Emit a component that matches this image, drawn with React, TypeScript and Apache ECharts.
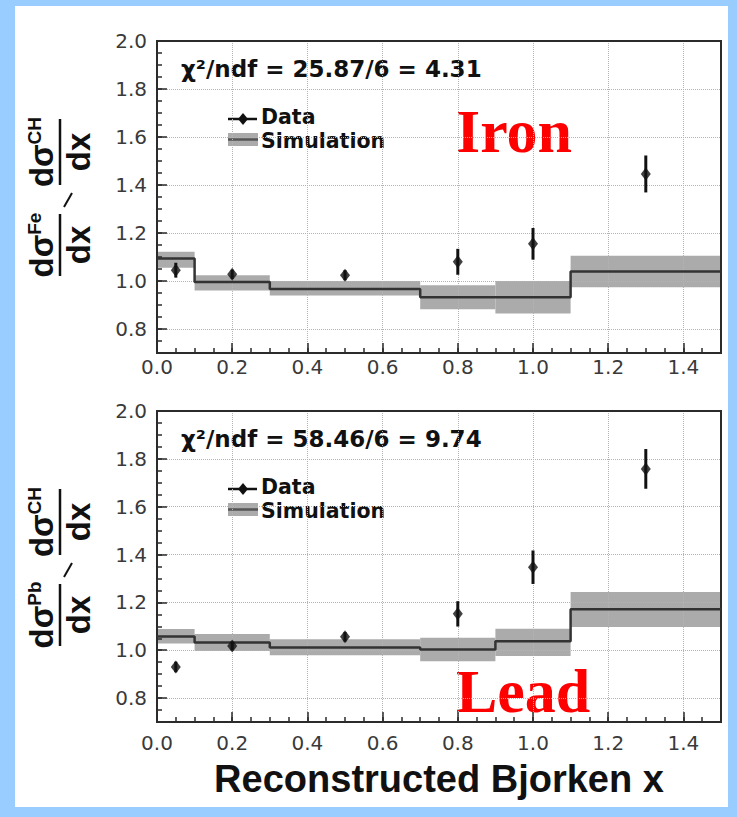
import { useEffect, useRef } from 'react';
import * as echarts from 'echarts';

// Bin edges of the simulated ratio (Bjorken x)
const binEdges = [0, 0.1, 0.3, 0.7, 0.9, 1.1, 1.5];
// Bin centres where the measured ratios are plotted
const pointX = [0.05, 0.2, 0.5, 0.8, 1.0, 1.3];

// Iron / CH
const ironData = [1.045, 1.028, 1.024, 1.08, 1.155, 1.446];
const ironErr = [0.031, 0.019, 0.021, 0.054, 0.066, 0.077];
const ironSim = [1.094, 0.996, 0.967, 0.932, 0.932, 1.04];
const ironSimLo = [1.055, 0.96, 0.94, 0.882, 0.865, 0.974];
const ironSimHi = [1.122, 1.024, 1.0, 0.982, 1.0, 1.105];

// Lead / CH
const leadData = [0.93, 1.018, 1.056, 1.152, 1.347, 1.758];
const leadErr = [0.022, 0.018, 0.02, 0.053, 0.07, 0.083];
const leadSim = [1.057, 1.032, 1.011, 1.003, 1.038, 1.171];
const leadSimLo = [1.028, 0.997, 0.979, 0.954, 0.976, 1.097];
const leadSimHi = [1.089, 1.068, 1.046, 1.052, 1.09, 1.243];

const ironChi = 'χ²/ndf = 25.87/6 = 4.31';
const leadChi = 'χ²/ndf = 58.46/6 = 9.74';
const xTitle = 'Reconstructed Bjorken x';

const SANS = 'DejaVu Sans';
const HELV = 'Liberation Sans';
const SERIF = 'Liberation Serif';
const FRAME = '#2b2b2b';
const BAND = '#ababab';

const GRID_LEFT = 157;
const GRID_W = 564;

type Panel = {
  top: number;
  height: number;
  data: number[];
  err: number[];
  sim: number[];
  lo: number[];
  hi: number[];
  chi: string;
  sup: string;
  tag: string;
  tagY: number;
  labelMargin: number;
};

const panels: Panel[] = [
  { top: 41, height: 312, data: ironData, err: ironErr, sim: ironSim, lo: ironSimLo, hi: ironSimHi, chi: ironChi, sup: 'Fe', tag: 'Iron', tagY: 131, labelMargin: 4 },
  { top: 411, height: 311, data: leadData, err: leadErr, sim: leadSim, lo: leadSimLo, hi: leadSimHi, chi: leadChi, sup: 'Pb', tag: 'Lead', tagY: 691, labelMargin: 11 },
];

function stepPoints(edges: number[], vals: number[]) {
  const pts: number[][] = [];
  vals.forEach((v, i) => {
    pts.push([edges[i], v]);
    pts.push([edges[i + 1], v]);
  });
  return pts;
}

// Rotated y-axis title: (dσ^A/dx) / (dσ^CH/dx)
function ratioTitle(sup: string, cy: number) {
  const rich = {
    m: { fontSize: 33, fontWeight: 'bold', fontFamily: HELV, fill: '#111' },
    s: { fontSize: 19, fontWeight: 'bold', fontFamily: HELV, fill: '#111', verticalAlign: 'top' },
  };
  const fraction = (uc: number, half: number, s: string) => [
    {
      type: 'line',
      shape: { x1: uc - half, y1: 0, x2: uc + half, y2: 0 },
      style: { stroke: '#111', lineWidth: 2.5 },
    },
    {
      type: 'text',
      x: uc,
      y: -2,
      style: { text: `{m|dσ}{s|${s}}`, rich, align: 'center', verticalAlign: 'bottom' },
    },
    {
      type: 'text',
      x: uc,
      y: 2,
      style: { text: 'dx', fontSize: 33, fontWeight: 'bold', fontFamily: HELV, fill: '#111', align: 'center', verticalAlign: 'top' },
    },
  ];
  return [
    {
      type: 'group',
      x: 60,
      y: cy,
      rotation: Math.PI / 2,
      children: [...fraction(-48, 31, sup), ...fraction(45, 33, 'CH')],
    },
    {
      type: 'line',
      shape: { x1: 72, y1: cy - 4, x2: 64, y2: cy + 10 },
      style: { stroke: '#111', lineWidth: 2 },
    },
  ];
}

function legendAndText(p: Panel, dy: number) {
  return [
    {
      type: 'text',
      x: 181,
      y: 69 + dy,
      style: { text: p.chi, fontSize: 23, fontWeight: 'bold', fontFamily: SANS, fill: '#111', verticalAlign: 'middle' },
    },
    // Data legend entry
    {
      type: 'line',
      shape: { x1: 228, y1: 119 + dy, x2: 257, y2: 119 + dy },
      style: { stroke: '#111', lineWidth: 2.5 },
    },
    {
      type: 'polygon',
      shape: { points: [[243, 113 + dy], [248, 119 + dy], [243, 125 + dy], [238, 119 + dy]] },
      style: { fill: '#111' },
    },
    {
      type: 'text',
      x: 261,
      y: 117 + dy,
      style: { text: 'Data', fontSize: 20.5, lineHeight: 20, fontWeight: 'bold', fontFamily: SANS, fill: '#111', verticalAlign: 'middle' },
    },
    // Simulation legend entry
    {
      type: 'rect',
      shape: { x: 228, y: 133 + dy, width: 30, height: 13 },
      style: { fill: BAND },
    },
    {
      type: 'line',
      shape: { x1: 228, y1: 139.5 + dy, x2: 258, y2: 139.5 + dy },
      style: { stroke: '#555', lineWidth: 2.5 },
    },
    {
      type: 'text',
      x: 261,
      y: 140.5 + dy,
      style: { text: 'Simulation', fontSize: 20.5, lineHeight: 20, fontWeight: 'bold', fontFamily: SANS, fill: '#111', verticalAlign: 'middle' },
    },
    // Nucleus tag
    {
      type: 'text',
      x: 456,
      y: p.tagY,
      style: { text: p.tag, fontSize: 62, fontWeight: 'bold', fontFamily: SERIF, fill: '#ff0000', verticalAlign: 'middle' },
    },
  ];
}

function buildOption() {
  const grid: any[] = [];
  const xAxis: any[] = [];
  const yAxis: any[] = [];
  const series: any[] = [];
  const graphic: any[] = [];

  panels.forEach((p, i) => {
    grid.push({
      left: GRID_LEFT,
      top: p.top,
      width: GRID_W,
      height: p.height,
      show: true,
      borderColor: FRAME,
      borderWidth: 2,
      backgroundColor: 'transparent',
      z: 3,
    });

    // major x axis: labels, long ticks, dotted grid
    xAxis.push({
      type: 'value',
      gridIndex: i,
      position: 'bottom',
      min: 0,
      max: 1.5,
      interval: 0.2,
      z: 2,
      axisLine: { show: true, lineStyle: { color: FRAME, width: 2 } },
      axisTick: { show: true, inside: true, length: 10, lineStyle: { color: FRAME, width: 1.5 } },
      axisLabel: {
        showMaxLabel: false,
        formatter: (v: number) => v.toFixed(1),
        fontFamily: SANS,
        fontSize: 20,
        color: '#3a3a3a',
        margin: p.labelMargin,
      },
      splitLine: { show: true, lineStyle: { color: '#b4b4b4', type: 'dotted', width: 1 } },
    });
    // minor x ticks
    xAxis.push({
      type: 'value',
      gridIndex: i,
      position: 'bottom',
      min: 0,
      max: 1.5,
      interval: 0.05,
      z: 2,
      axisLine: { show: false },
      axisTick: { show: true, inside: true, length: 5, lineStyle: { color: FRAME, width: 1.5 } },
      axisLabel: { show: false },
      splitLine: { show: false },
    });

    // major y axis
    yAxis.push({
      type: 'value',
      gridIndex: i,
      position: 'left',
      min: 0.7,
      max: 2.0,
      splitNumber: 6,
      z: 2,
      axisLine: { show: true, lineStyle: { color: FRAME, width: 2 } },
      axisTick: { show: true, inside: true, length: 10, lineStyle: { color: FRAME, width: 1.5 } },
      axisLabel: {
        showMinLabel: false,
        formatter: (v: number) => v.toFixed(1),
        fontFamily: SANS,
        fontSize: 20,
        color: '#3a3a3a',
        margin: 10,
      },
      splitLine: { show: true, lineStyle: { color: '#b4b4b4', type: 'dotted', width: 1 } },
    });
    // minor y ticks
    yAxis.push({
      type: 'value',
      gridIndex: i,
      position: 'left',
      min: 0.7,
      max: 2.0,
      interval: 0.05,
      z: 2,
      axisLine: { show: false },
      axisTick: { show: true, inside: true, length: 5, lineStyle: { color: FRAME, width: 1.5 } },
      axisLabel: { show: false },
      splitLine: { show: false },
    });

    const xi = i * 2;
    const yi = i * 2;

    // simulation uncertainty band
    series.push({
      type: 'custom',
      xAxisIndex: xi,
      yAxisIndex: yi,
      z: 1,
      silent: true,
      data: p.lo.map((lo, k) => [binEdges[k], binEdges[k + 1], lo, p.hi[k]]),
      encode: { x: [0, 1], y: [2, 3] },
      renderItem: (_params: any, api: any) => {
        const a = api.coord([api.value(0), api.value(3)]);
        const b = api.coord([api.value(1), api.value(2)]);
        return {
          type: 'rect',
          shape: { x: a[0], y: a[1], width: b[0] - a[0], height: b[1] - a[1] },
          style: { fill: BAND },
        };
      },
    });

    // simulation central value (histogram steps)
    series.push({
      type: 'line',
      xAxisIndex: xi,
      yAxisIndex: yi,
      z: 4,
      symbol: 'none',
      data: stepPoints(binEdges, p.sim),
      lineStyle: { color: '#333', width: 2.5 },
    });

    // data error bars
    series.push({
      type: 'custom',
      xAxisIndex: xi,
      yAxisIndex: yi,
      z: 5,
      data: p.data.map((v, k) => [pointX[k], v, p.err[k]]),
      encode: { x: 0, y: 1 },
      renderItem: (_params: any, api: any) => {
        const x = api.value(0);
        const y = api.value(1);
        const e = api.value(2);
        const a = api.coord([x, y - e]);
        const b = api.coord([x, y + e]);
        return {
          type: 'line',
          shape: { x1: a[0], y1: a[1], x2: b[0], y2: b[1] },
          style: { stroke: '#111', lineWidth: 3 },
        };
      },
    });

    // data markers
    series.push({
      type: 'scatter',
      xAxisIndex: xi,
      yAxisIndex: yi,
      z: 6,
      symbol: 'diamond',
      symbolSize: [10, 13],
      itemStyle: { color: '#111' },
      data: p.data.map((v, k) => [pointX[k], v]),
    });

    const dy = p.top - panels[0].top;
    graphic.push(...ratioTitle(p.sup, 197 + dy));
    graphic.push(...legendAndText(p, dy));
  });

  // shared x title under the lower panel
  xAxis[2].name = xTitle;
  xAxis[2].nameLocation = 'middle';
  xAxis[2].nameGap = 38;
  xAxis[2].nameTextStyle = { fontFamily: HELV, fontSize: 38, fontWeight: 'bold', color: '#111' };

  return {
    animation: false,
    backgroundColor: 'transparent',
    grid,
    xAxis,
    yAxis,
    series,
    graphic: { elements: graphic },
  };
}

export default function App() {
  const ref = useRef<HTMLDivElement>(null);
  useEffect(() => {
    if (!ref.current) return;
    const chart = echarts.init(ref.current, null, { renderer: 'svg' });
    chart.setOption(buildOption());
    return () => chart.dispose();
  }, []);
  return (
    <div style={{ position: 'absolute', left: 0, top: 0, width: 737, height: 817, background: '#99ccff' }}>
      <div style={{ position: 'absolute', left: 15, top: 6, width: 713, height: 801, background: '#ffffff' }} />
      <div ref={ref} style={{ position: 'absolute', left: 0, top: 0, width: 737, height: 817 }} />
    </div>
  );
}
